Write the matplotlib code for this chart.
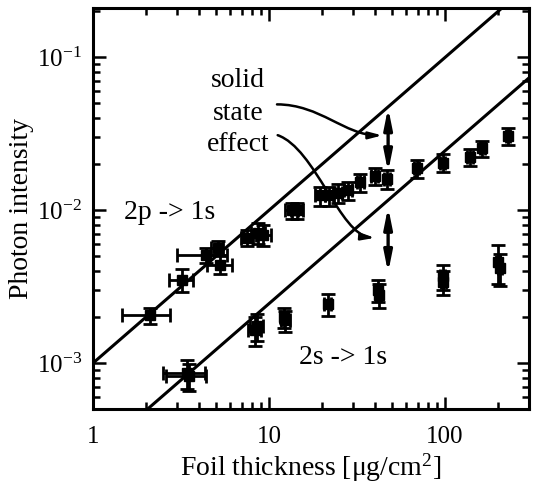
import numpy as np
import matplotlib
matplotlib.use("Agg")
import matplotlib.pyplot as plt
from matplotlib.patches import FancyArrowPatch
from matplotlib.path import Path
from matplotlib.ticker import FuncFormatter, LogLocator

plt.rcParams['font.family'] = ['Liberation Serif', 'DejaVu Serif']
plt.rcParams['mathtext.fontset'] = 'custom'
plt.rcParams['mathtext.rm'] = 'Liberation Serif'
plt.rcParams['mathtext.it'] = 'Liberation Serif:italic'

# 2p -> 1s measurements
x_2p = [2.1, 3.2, 4.4, 5.1, 5.3, 7.5, 8.7, 9.3, 13.5, 14.5, 19.5, 22.0, 24.5,
        28.0, 33.0, 40.0, 47.0, 69.0, 97.0, 139.0, 163.0, 228.0]
y_2p = [2.06e-3, 3.5e-3, 5.1e-3, 5.7e-3, 4.4e-3, 6.6e-3, 7.1e-3, 6.9e-3,
        1.0e-2, 1.0e-2, 1.25e-2, 1.25e-2, 1.3e-2, 1.35e-2, 1.52e-2, 1.68e-2,
        1.6e-2, 1.88e-2, 2.05e-2, 2.22e-2, 2.54e-2, 3.05e-2]
xerr_2p = [0.64, 0.5, 1.4, 0.4, 0.85, 0.6, 0.8, 0.9, 1.2, 1.2, 1.2, 1.3, 1.4,
           1.5, 1.5, 1.8, 2.0, 2.5, 3.0, 5.0, 5.0, 7.0]
yerr_2p = [2.5e-4, 6e-4, 6e-4, 6e-4, 6e-4, 8e-4, 1.1e-3, 1.1e-3, 1.2e-3,
           1.2e-3, 1.8e-3, 1.8e-3, 1.8e-3, 1.8e-3, 2.0e-3, 2.2e-3, 2.3e-3,
           2.6e-3, 2.8e-3, 2.8e-3, 3.2e-3, 3.8e-3]

# 2s -> 1s measurements
x_2s = [3.4, 3.5, 8.3, 8.5, 12.2, 12.4, 21.5, 41.5, 42.0, 97.0, 98.0, 200.0, 205.0]
y_2s = [8.6e-4, 8.2e-4, 1.65e-3, 1.75e-3, 2.0e-3, 1.9e-3, 2.42e-3, 3.0e-3,
        2.8e-3, 3.7e-3, 3.4e-3, 4.6e-3, 4.2e-3]
xerr_2s = [0.9, 0.9, 0.7, 0.7, 0.7, 0.7, 1.0, 1.5, 1.5, 3.0, 3.0, 6.0, 6.0]
yerr_2s = [1.8e-4, 1.6e-4, 3.5e-4, 3.5e-4, 3.0e-4, 3.0e-4, 4.0e-4, 5.0e-4,
           5.0e-4, 7.0e-4, 6.0e-4, 1.3e-3, 1.0e-3]

# linear-in-thickness reference lines (slope 1 on log-log)
fit_2p = 1.0e-3
fit_2s = 2.45e-4
x_fit = np.array([1.0, 300.0])

fig = plt.figure(figsize=(5.33, 4.83), dpi=100)
ax = fig.add_axes([0.1745, 0.153, 0.818, 0.830])
ax.set_xscale('log')
ax.set_yscale('log')

ax.plot(x_fit, fit_2p * x_fit, color='black', lw=2.2)
ax.plot(x_fit, fit_2s * x_fit, color='black', lw=2.2)

err_kw = dict(fmt='s', color='black', ms=7, elinewidth=2, capsize=5, capthick=2)
ax.errorbar(x_2p, y_2p, xerr=xerr_2p, yerr=yerr_2p, **err_kw)
ax.errorbar(x_2s, y_2s, xerr=xerr_2s, yerr=yerr_2s, **err_kw)

# labels
fs = 20
ax.text(2.74, 9.7e-3, '2p -> 1s', fontsize=fs, ha='center', va='center')
ax.text(26.4, 1.09e-3, '2s -> 1s', fontsize=fs, ha='center', va='center')
ax.text(6.67, 0.0708, 'solid', fontsize=fs, ha='center', va='center')
ax.text(6.67, 0.0430, 'state', fontsize=fs, ha='center', va='center')
ax.text(6.67, 0.0270, 'effect', fontsize=fs, ha='center', va='center')

# double arrows showing the gap
arr_kw = dict(arrowstyle='<|-|>,head_length=1.0,head_width=0.2', color='black',
              lw=2.4, shrinkA=0, shrinkB=0, mutation_scale=12)
ax.add_patch(FancyArrowPatch((47.5, 0.0178), (47.5, 0.047), **arr_kw))
ax.add_patch(FancyArrowPatch((47.5, 0.0039), (47.5, 0.0105), **arr_kw))

# curved pointers from the text
curve_kw = dict(arrowstyle='-|>,head_length=0.65,head_width=0.17', color='black',
                lw=1.8, transform=ax.transData, shrinkA=0, shrinkB=0,
                mutation_scale=12)
codes = [Path.MOVETO, Path.CURVE4, Path.CURVE4, Path.CURVE4]
p1 = Path([(11.1, 0.0493), (19.5, 0.0493), (27.0, 0.0309), (44.0, 0.0309)], codes)
p2 = Path([(11.2, 0.0310), (18.3, 0.0254), (25.3, 0.0069), (40.0, 0.0066)], codes)
ax.add_patch(FancyArrowPatch(path=p1, **curve_kw))
ax.add_patch(FancyArrowPatch(path=p2, **curve_kw))

ax.set_xlim(1, 300)
ax.set_ylim(5.0e-4, 0.21)

ax.xaxis.set_major_formatter(FuncFormatter(lambda v, p: '%g' % v))
ax.yaxis.set_major_locator(LogLocator(base=10, numticks=10))
ax.yaxis.set_major_formatter(FuncFormatter(
    lambda v, p: r'$\mathregular{10^{%d}}$' % round(np.log10(v))))
ax.tick_params(which='both', direction='in', top=True, right=True, width=1.8,
               labelsize=18)
ax.tick_params(which='major', length=9)
ax.tick_params(axis='x', which='major', pad=12)
ax.tick_params(axis='y', which='major', pad=8)
ax.tick_params(which='minor', length=5)
ax.xaxis.set_minor_formatter(FuncFormatter(lambda v, p: ''))
for s in ax.spines.values():
    s.set_linewidth(2.2)

ax.set_xlabel(r'Foil thickness [$\mathregular{\mu}$g/cm$\mathregular{^2}$]',
              fontsize=20, labelpad=3)
ax.set_ylabel('Photon intensity', fontsize=20, labelpad=2)

fig.savefig('out.png', dpi=100)
